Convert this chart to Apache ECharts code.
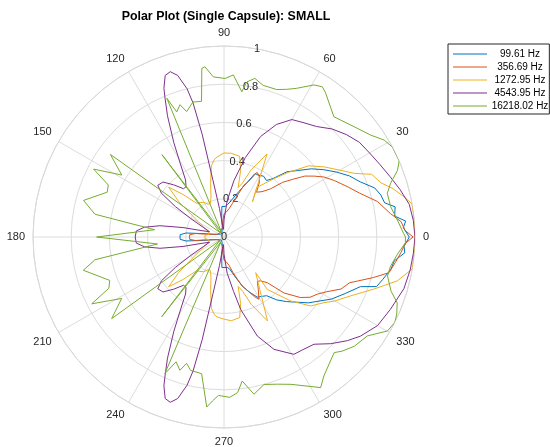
<!DOCTYPE html>
<html>
<head>
<meta charset="utf-8">
<script src="https://cdn.jsdelivr.net/npm/echarts@6/dist/echarts.min.js"></script>
<style>
html,body{margin:0;padding:0;background:#fff;}
#chart{width:550px;height:447px;}
</style>
</head>
<body>
<div id="chart"></div>
<script>
// ---- data: [angle (deg), normalized level] ----
const seriesNames = ['99.61 Hz', '356.69 Hz', '1272.95 Hz', '4543.95 Hz', '16218.02 Hz'];
const angleTicks = [0, 30, 60, 90, 120, 150, 180, 210, 240, 270, 300, 330];
const radiusTicks = [0, 0.2, 0.4, 0.6, 0.8, 1];

const blue = [[0,.97],[3,.94],[5,.955],[7,.90],[10,.91],[12,.86],[15,.85],[18,.83],[22,.77],[26,.73],[30,.68],[34,.63],[38,.58],[42,.52],[46,.475],[50,.40],[53,.37],[57,.38],[61,.37],[64,.37],[67,.31],[72,.25],[78,.20],[84,.17],[88,.16],[94,.16],[97,.10],[100,.05],[110,.03],[130,.02],[150,.03],[160,.04],[166,.06],[170,.10],[174,.20],[177,.23],[180,.23],
  [183,.23],[186,.20],[190,.10],[194,.06],[200,.04],[210,.03],[230,.02],[250,.03],[260,.05],[263,.10],[266,.16],[272,.16],[276,.16],[280,.17],[286,.22],[291,.28],[295,.32],[299,.36],[303,.37],[306,.38],[310,.43],[314,.47],[318,.51],[322,.56],[326,.60],[330,.65],[335,.70],[340,.76],[342,.84],[345,.86],[349,.89],[352,.90],[355,.95],[357,.944],[360,.97]];

const red = [[0,.99],[2,.95],[5,.93],[8,.88],[13,.825],[18,.745],[22,.70],[27,.65],[31,.61],[34,.57],[37,.53],[40,.47],[43,.42],[46,.35],[50,.31],[54,.29],[57,.34],[60,.37],[63,.38],[66,.32],[69,.29],[72,.23],[76,.18],[80,.15],[85,.13],[90,.12],[95,.08],[100,.05],[110,.04],[130,.03],[150,.03],[160,.04],[166,.06],[170,.08],[173,.15],[176,.18],[180,.18],
  [184,.18],[187,.15],[190,.08],[194,.06],[200,.04],[210,.03],[230,.03],[250,.04],[260,.05],[265,.08],[270,.12],[275,.13],[280,.15],[284,.19],[290,.27],[294,.31],[297,.35],[299.3,.374],[303,.33],[307,.29],[310,.30],[313.5,.33],[317,.43],[321.6,.51],[325,.55],[328.5,.573],[332,.61],[336,.67],[340,.70],[341.7,.735],[344.8,.81],[347.8,.884],[352,.91],[355,.93],[358,.95],[360,.99]];

const yellow = [[0,1.0],[3,1.0],[7,1.0],[10,1.0],[13,.96],[16,.92],[19,.87],[23,.84],[26,.76],[30,.70],[35,.64],[40,.58],[45,.48],[49.6,.40],[56.5,.31],[51,.237],[62.6,.49],[68,.38],[71,.30],[74,.27],[76,.36],[79,.43],[85,.44],[90,.44],[95,.42],[97,.41],[100,.38],[104,.29],[108,.22],[112,.19],[116,.19],[120,.21],[125,.22],[129,.227],[134,.31],[138,.39],[142,.30],[150,.15],[160,.09],[170,.08],[175,.10],[180,.10],
  [185,.10],[190,.08],[200,.09],[210,.15],[218,.30],[222,.39],[226,.31],[231,.227],[235,.22],[240,.21],[244,.19],[248,.19],[252,.22],[256,.29],[260,.38],[263,.41],[265,.42],[270,.43],[275,.44],[281,.43],[284,.36],[286,.27],[289,.30],[292,.38],[297.4,.495],[311.6,.25],[309.6,.356],[316.2,.484],[321.5,.58],[326.7,.626],[330,.67],[335,.73],[340.8,.83],[345.8,.936],[350.4,1.0],[354,1.0],[357.3,1.0],[360,1.0]];

const purple = [[0,1.0],[5,.995],[10,.985],[15,.955],[20,.925],[25,.90],[30,.88],[35,.865],[40,.835],[45,.80],[50,.755],[55,.73],[60,.71],[65,.65],[70,.56],[75,.43],[80,.30],[85,.19],[90,.09],[94,.04],[97,.06],[99,.15],[101,.3],[102,.55],[103,.72],[104,.80],[106,.88],[108,.91],[110,.90],[112,.84],[113,.79],[115,.70],[118,.56],[121,.44],[124,.36],[127,.33],[130,.33],[134,.38],[138,.43],[142,.44],[145,.40],[148,.30],[151,.2],[155,.12],[160,.08],[164,.12],[167,.22],[170,.34],[173,.42],[176,.46],[180,.465],
  [184,.46],[187,.42],[190,.34],[193,.22],[196,.12],[200,.08],[205,.12],[209,.2],[212,.30],[215,.40],[218,.44],[222,.43],[226,.38],[230,.33],[233,.33],[236,.36],[239,.44],[242,.56],[245,.70],[247,.79],[248,.84],[250,.90],[252,.91],[254,.88],[256,.80],[257,.72],[258,.55],[259,.3],[261,.15],[263,.06],[266,.04],[270,.09],[275,.19],[280,.29],[283,.39],[288.6,.547],[294,.644],[300.8,.715],[305,.72],[310,.733],[315,.79],[320,.844],[324,.883],[330,.928],[336.5,.95],[344,.98],[350,.99],[355,.995],[360,1.0]];

const green = [[0,.95],[1.2,.94],[5.6,.912],[10.3,.887],[15,.885],[17.9,.917],[21,.973],[23.5,1.0],[28,1.0],[31.2,.98],[34.8,.935],[40.3,.893],[45,.865],[47.6,.853],[55,.925],[56.8,.94],[59.4,.925],[64,.866],[67,.84],[70.3,.82],[75.5,.82],[79,.846],[81.7,.82],[83,.766],[86.7,.85],[89.6,.83],[93.8,.84],[96.4,.897],[97.5,.89],[99.4,.72],[103,.725],[106.6,.685],[108.4,.73],[110.7,.70],[112.4,.786],[117,.03],[122,.03],[127,.54],[131,.03],[140,.03],[144,.735],[148.8,.626],[152.5,.77],[155.8,.664],[159,.655],[165.4,.76],[170,.686],[174,.365],[180,.667],
  [186,.35],[190,.686],[193.3,.757],[200.8,.64],[204,.66],[206.8,.776],[211,.625],[216,.727],[220,.03],[228,.03],[232,.53],[237,.03],[243,.03],[246.6,.78],[249,.70],[251.7,.735],[253.5,.69],[256,.72],[260.7,.725],[264.2,.895],[266,.86],[268,.83],[272,.84],[275,.818],[277.2,.76],[280.8,.838],[285.2,.80],[290,.82],[294.4,.847],[302.7,.937],[305.7,.896],[313.6,.836],[316,.86],[320,.89],[325.4,.912],[330.1,.987],[333.5,1.0],[336,.99],[339.2,.97],[342,.92],[346.6,.88],[350,.885],[354,.91],[358.2,.95],[360,.95]];

const seriesData = [blue, red, yellow, purple, green];
const colors = ['#0072BD', '#D95319', '#EDB120', '#7E2F8E', '#77AC30'];

const FONT = '"Liberation Sans", Arial, Helvetica, sans-serif';
const CX = 224, CY = 237, R = 191;

const chart = echarts.init(document.getElementById('chart'), null, {renderer: 'canvas'});

const option = {
  animation: false,
  backgroundColor: '#ffffff',
  textStyle: {fontFamily: FONT},
  graphic: [{
    type: 'text', x: 226, y: 17, z: 10,
    style: {text: 'Polar Plot (Single Capsule): SMALL', fill: '#000', font: 'bold 12.4px ' + FONT,
            textAlign: 'center', textVerticalAlign: 'middle'}
  }],
  polar: [
    {center: [CX, CY], radius: R},
    {center: [CX, CY], radius: R}
  ],
  angleAxis: [
    {
      polarIndex: 0, type: 'value', min: 0, max: 360, interval: 30,
      startAngle: 0, clockwise: false,
      axisLine: {show: true, lineStyle: {color: '#d9d9d9', width: 1}},
      axisTick: {show: false},
      axisLabel: {show: true, color: '#262626', fontSize: 11, fontFamily: FONT, margin: 8,
        formatter: v => (angleTicks.indexOf(v) >= 0 ? String(v) : '')},
      splitLine: {show: true, lineStyle: {color: '#dcdcdc', width: 1}}
    },
    {
      polarIndex: 1, type: 'value', min: 0, max: 360, startAngle: 80, clockwise: false,
      axisLine: {show: false}, axisTick: {show: false}, axisLabel: {show: false}, splitLine: {show: false}
    }
  ],
  radiusAxis: [
    {
      polarIndex: 0, type: 'value', min: 0, max: 1, interval: 0.2,
      axisLine: {show: false}, axisTick: {show: false}, axisLabel: {show: false},
      splitLine: {show: true, lineStyle: {color: '#dcdcdc', width: 1}}
    },
    {
      polarIndex: 1, type: 'value', min: 0, max: 1, interval: 0.2,
      axisLine: {show: false}, axisTick: {show: false}, splitLine: {show: false},
      axisLabel: {show: true, margin: 0, align: 'center', verticalAlign: 'middle',
        color: '#262626', fontSize: 11, fontFamily: FONT,
        formatter: v => {
          const t = radiusTicks.find(k => Math.abs(k - v) < 1e-9);
          return t === undefined ? '' : String(t);
        }}
    }
  ],
  legend: {
    orient: 'vertical', left: 448, top: 44,
    itemWidth: 34, itemHeight: 1, itemGap: 3,
    padding: [5, 1, 3, 5],
    borderColor: '#262626', borderWidth: 1, backgroundColor: '#ffffff',
    icon: 'rect',
    data: seriesNames,
    formatter: name => '{t|' + name + '}',
    textStyle: {
      fontFamily: FONT, fontSize: 10, color: '#000',
      rich: {t: {width: 56, align: 'center', fontSize: 10, lineHeight: 10, fontFamily: FONT, color: '#000'}}
    }
  },
  series: seriesNames.map((name, i) => ({
    name: name,
    type: 'line',
    coordinateSystem: 'polar',
    polarIndex: 0,
    symbol: 'none',
    clip: false,
    lineStyle: {color: colors[i], width: 1},
    itemStyle: {color: colors[i]},
    data: seriesData[i].map(p => [p[1], p[0]])
  }))
};
chart.setOption(option);
</script>
</body>
</html>
